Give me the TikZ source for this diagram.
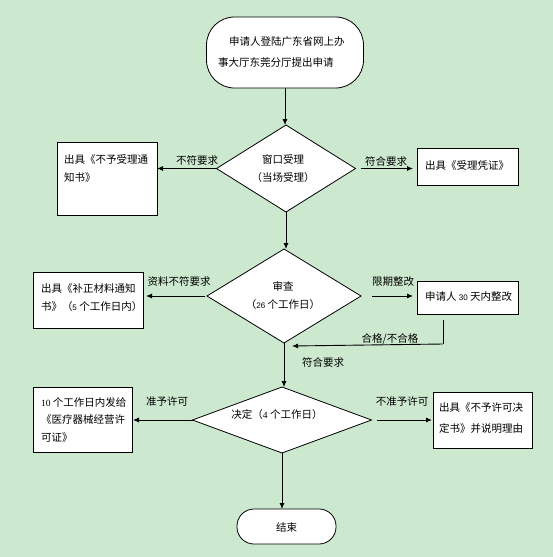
\documentclass[tikz,border=0pt]{standalone}
\usepackage{fontspec}
\setmainfont{Liberation Serif}
\newfontfamily\cjk{Noto Sans CJK SC}
\newfontfamily\lsans{Liberation Sans}
\usetikzlibrary{shapes.geometric,arrows.meta,calc}
\definecolor{bggreen}{RGB}{204,232,207}
\newcommand\dgs[1]{{\lsans\fontsize{8}{8}\selectfont #1}}
\newcommand\dgr[1]{{\rmfamily\fontsize{9.5}{9.5}\selectfont #1}}
\begin{document}
\begin{tikzpicture}[x=1pt,y=-1pt,
  every node/.style={inner sep=0pt, outer sep=0pt},
  txt/.style={font=\cjk\fontsize{10.5}{18}\selectfont, align=left},
  shp/.style={draw=black, line width=0.8pt, fill=white},
  arr/.style={line width=0.9pt, -{Latex[length=6pt,width=5pt]}},
  ln/.style={line width=0.9pt}]
\fill[bggreen] (0,0) rectangle (553,557);
\useasboundingbox (0,0) rectangle (553,557);

% shapes
\node[shp, rounded corners=28pt, minimum width=157pt, minimum height=71pt] (start) at (285,52.5) {};
\node[shp, diamond, minimum width=139pt, minimum height=87pt] (d1) at (286,168.5) {};
\node[shp, diamond, minimum width=154pt, minimum height=94pt] (d2) at (284,296) {};
\node[shp, diamond, minimum width=179pt, minimum height=66pt] (d3) at (282,420) {};
\node[shp, rounded corners=17pt, minimum width=99pt, minimum height=35pt] (endn) at (286.5,526.5) {};
\node[shp, minimum width=100pt, minimum height=73pt] (l1) at (107,178.5) {};
\node[shp, minimum width=101pt, minimum height=37pt] (r1) at (467.5,166.5) {};
\node[shp, minimum width=110pt, minimum height=56pt] (l2) at (88,300) {};
\node[shp, minimum width=101pt, minimum height=33pt] (r2) at (467.5,297.5) {};
\node[shp, minimum width=99pt, minimum height=65pt] (l3) at (82.5,419.5) {};
\node[shp, minimum width=99pt, minimum height=56pt] (r3) at (482.5,420) {};

% texts
\node[txt, font=\cjk\fontsize{10.5}{21}\selectfont, anchor=north west] (tstart) at (218,36.5) {\hspace{11pt}申请人登陆广东省网上办\\事大厅东莞分厅提出申请};
\node[txt, anchor=north west] (tl1) at (64,154.5) {出具《不予受理通\\知书》};
\node[txt, anchor=west] (tr1) at (425,166) {出具《受理凭证》};
\node[txt, anchor=north west] (tl2) at (41,283.5) {出具《补正材料通知\\书》（\dgs{5} 个工作日内）};
\node[txt, anchor=west] (tr2) at (425,297) {申请人 \dgs{30} 天内整改};
\node[txt, font=\cjk\fontsize{10.5}{17.5}\selectfont, anchor=north west] (tl3) at (41,397.5) {\dgr{10} 个工作日内发给\\《医疗器械经营许\\可证》};
\node[txt, font=\cjk\fontsize{10.5}{21}\selectfont, anchor=north west] (tr3) at (439,402.5) {出具《不予许可决\\定书》并说明理由};
\node[txt, align=center, anchor=north] (td1) at (283,154.5) {窗口受理\\（当场受理）};
\node[txt, align=center, anchor=north] (td2) at (283,281.5) {审查\\（\dgs{26} 个工作日）};
\node[txt] (td3) at (277,415) {决定（\dgr{4} 个工作日）};
\node[txt] (tend) at (286.5,527) {结束};

% connectors
\draw[arr] (start.south) -- (start.south |- d1.north);
\draw[arr] (d1.south) -- (d1.south |- d2.north);
\draw[arr] (d2.south) -- (d2.south |- d3.north);
\draw[arr] (d3.south) -- (d3.south |- endn.north);

\draw[arr] (d1.west) -- (l1.east |- d1.west);
\draw[arr] ([xshift=5pt]d1.east) -- ([xshift=-4pt]r1.west |- d1.east);
\draw[arr] ([xshift=-2pt]d2.west) -- ([xshift=3pt]l2.east |- d2.west);
\draw[arr] ([xshift=11pt]d2.east) -- ([xshift=-4pt]r2.west |- d2.east);
\draw[arr] (d3.west) -- ([xshift=1pt]l3.east |- d3.west);
\draw[arr] ([xshift=5pt]d3.east) -- ([xshift=-1pt]r3.west |- d3.east);

\coordinate (fb1) at (443,320);
\coordinate (fb2) at (443,344);
\coordinate (fb3) at (292,346);
\draw[ln] (fb1) -- (fb2);
\draw[arr] (fb2) -- (fb3);

% edge labels
\node[txt] (e1) at (197,161) {不符要求};
\node[txt] (e2) at (386,162) {符合要求};
\node[txt] (e3) at (179,282) {资料不符要求};
\node[txt] (e4) at (393,282) {限期整改};
\node[txt] (e5) at (390,339) {合格/不合格};
\node[txt] (e6) at (323,362) {符合要求};
\node[txt] (e7) at (167,402) {准予许可};
\node[txt] (e8) at (402,402) {不准予许可};
\end{tikzpicture}
\end{document}
